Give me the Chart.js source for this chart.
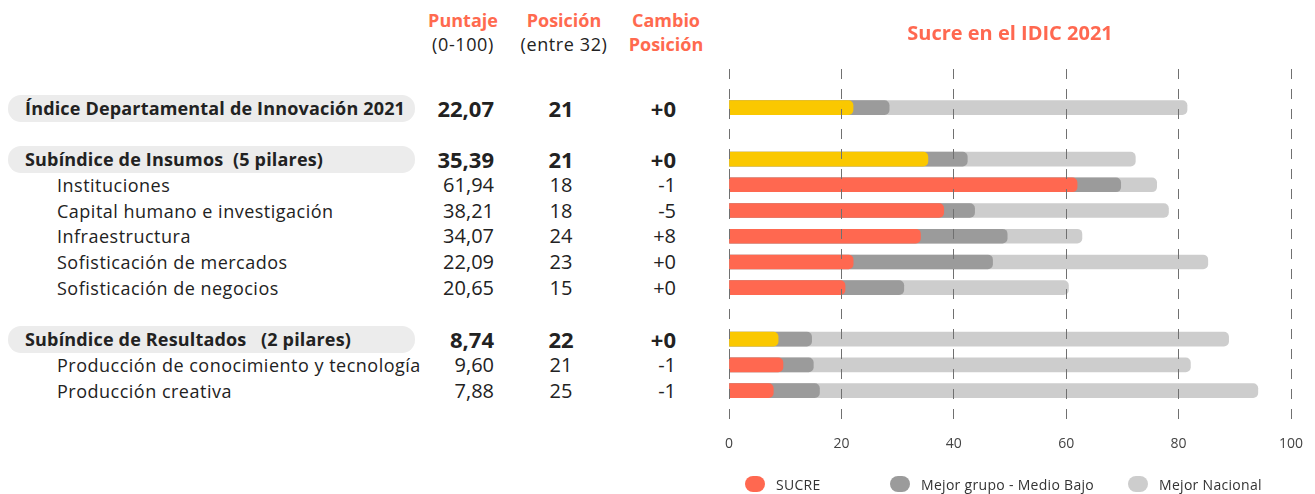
<!DOCTYPE html>
<html>
<head>
<meta charset="utf-8">
<title>Sucre en el IDIC 2021</title>
<script src="https://cdn.jsdelivr.net/npm/chart.js@4.4.1/dist/chart.umd.min.js"></script>
<style>
  html, body { margin: 0; padding: 0; background: #fff; overflow: hidden; }
  body { width: 1315px; height: 494px; position: relative; font-family: "Open Sans", sans-serif; color: #222; }
  .head { position: absolute; text-align: center; width: 130px; line-height: 24px; }
  .head b { color: #FF6A4F; font-size: 18px; display: block; }
  .head span { font-size: 18px; letter-spacing: 0.6px; display: block; }
  .row { position: absolute; left: 0; width: 700px; height: 26px; line-height: 26px; }
  .row .pill { position: absolute; left: 8px; top: 0; width: 407px; height: 27px; border-radius: 13px; background: #ececec; }
  .row .name { position: absolute; white-space: pre; font-size: 18px; letter-spacing: 0.5px; }
  .row .score { position: absolute; left: 400px; width: 94px; text-align: right; font-size: 20px; }
  .row .rank { position: absolute; left: 521px; width: 80px; text-align: center; font-size: 20px; }
  .row .chg { position: absolute; left: 616px; width: 60px; text-align: right; font-size: 20px; }
  .row.main .name, .row.main .score, .row.main .rank, .row.main .chg { font-weight: bold; }
  .row.main .score, .row.main .rank, .row.main .chg { font-size: 22px; }
  .row.main .name { left: 25px; letter-spacing: 0.17px; }
  .row.sub .name { left: 57px; }
  #chartBox { position: absolute; left: 700px; top: 0; width: 615px; height: 494px; }
  #legend { position: absolute; left: 745px; top: 476px; display: flex; font-size: 14px; letter-spacing: 0.3px; color: #333; }
  #legend .item { display: flex; align-items: center; height: 16px; }
  #legend .item:nth-child(1) { width: 145px; }
  #legend .item:nth-child(2) { width: 238px; }
  #legend .box { width: 20px; height: 16px; border-radius: 8px; margin-right: 11px; }
</style>
</head>
<body>

<div class="head" style="left:398px; top:8px"><b>Puntaje</b><span>(0-100)</span></div>
<div class="head" style="left:499px; top:8px"><b>Posición</b><span>(entre 32)</span></div>
<div class="head" style="left:601px; top:8px"><b>Cambio</b><b>Posición</b></div>

<div id="table"></div>
<div id="chartBox"><canvas id="idicChart"></canvas></div>
<div id="legend"></div>

<script>
// Filas del índice, subíndices y pilares
const rowNames = [
  'Índice Departamental de Innovación 2021',
  'Subíndice de Insumos  (5 pilares)',
  'Instituciones',
  'Capital humano e investigación',
  'Infraestructura',
  'Sofisticación de mercados',
  'Sofisticación de negocios',
  'Subíndice de Resultados   (2 pilares)',
  'Producción de conocimiento y tecnología',
  'Producción creativa'
];
const isMainRow = [true, true, false, false, false, false, false, true, false, false];
const scores = [22.07, 35.39, 61.94, 38.21, 34.07, 22.09, 20.65, 8.74, 9.60, 7.88];
const ranks = [21, 21, 18, 18, 24, 23, 15, 22, 21, 25];
const rankChanges = ['+0', '+0', '-1', '-5', '+8', '+0', '+0', '+0', '-1', '-1'];
const bestGroup = [28.5, 42.4, 69.7, 43.7, 49.5, 46.9, 31.1, 14.7, 15.0, 16.1];
const bestNational = [81.5, 72.3, 76.1, 78.2, 62.8, 85.2, 60.4, 88.9, 82.1, 94.1];
const seriesNames = ['SUCRE', 'Mejor grupo - Medio Bajo', 'Mejor Nacional'];
const xTicks = [0, 20, 40, 60, 80, 100];

const YELLOW = '#FAC800';
const CORAL = '#FF6850';
const DARK = '#9B9B9B';
const LIGHT = '#CDCDCD';

// blank slots: one above, one after the index, one before Resultados, one below
const gapAfter = [0, 6];
const slots = [null];
rowNames.forEach((n, i) => {
  slots.push(i);
  if (gapAfter.includes(i)) slots.push(null);
});
slots.push(null);

const pick = arr => slots.map(i => i === null ? null : arr[i]);

const barOpts = { grouped: false, barThickness: 14, borderRadius: 5, borderSkipped: 'start' };

const chart = new Chart(document.getElementById('idicChart'), {
  type: 'bar',
  data: {
    labels: slots.map(i => i === null ? '' : rowNames[i]),
    datasets: [
      Object.assign({
        label: seriesNames[0],
        data: pick(scores),
        backgroundColor: slots.map(i => i === null ? CORAL : (isMainRow[i] ? YELLOW : CORAL))
      }, barOpts),
      Object.assign({ label: seriesNames[1], data: pick(bestGroup), backgroundColor: DARK }, barOpts),
      Object.assign({ label: seriesNames[2], data: pick(bestNational), backgroundColor: LIGHT }, barOpts)
    ]
  },
  options: {
    indexAxis: 'y',
    responsive: true,
    maintainAspectRatio: false,
    animation: false,
    layout: { padding: { left: 29, right: 24, top: 22, bottom: 36 } },
    plugins: {
      legend: { display: false },
      tooltip: { enabled: false },
      title: {
        display: true,
        text: 'Sucre en el IDIC 2021',
        color: CORAL,
        font: { family: 'Open Sans', size: 20, weight: 'bold' },
        padding: { top: 0, bottom: 23 }
      }
    },
    scales: {
      x: {
        min: 0,
        max: 100,
        afterBuildTicks: s => { s.ticks = xTicks.map(v => ({ value: v })); },
        ticks: { color: '#444', font: { family: 'Open Sans', size: 14 }, padding: 6 },
        grid: { color: '#707070', lineWidth: 1, z: 1, drawTicks: false },
        border: { display: false, dash: [10, 10] }
      },
      y: { display: false }
    }
  }
});

// Table rows on the left, lined up with the bar rows
const yScale = chart.scales.y;
const table = document.getElementById('table');
slots.forEach((i, slot) => {
  if (i === null) return;
  const cy = yScale.getPixelForValue(slot);
  const row = document.createElement('div');
  row.className = 'row ' + (isMainRow[i] ? 'main' : 'sub');
  row.style.top = (cy - 13) + 'px';
  row.innerHTML =
    (isMainRow[i] ? '<div class="pill"></div>' : '') +
    '<span class="name"></span><span class="score"></span><span class="rank"></span><span class="chg"></span>';
  row.querySelector('.name').textContent = rowNames[i];
  row.querySelector('.score').textContent = scores[i].toFixed(2).replace('.', ',');
  row.querySelector('.rank').textContent = ranks[i];
  row.querySelector('.chg').textContent = rankChanges[i];
  table.appendChild(row);
});

// Legend
const legend = document.getElementById('legend');
[CORAL, DARK, LIGHT].forEach((c, k) => {
  const item = document.createElement('div');
  item.className = 'item';
  item.innerHTML = '<span class="box" style="background:' + c + '"></span><span></span>';
  item.lastChild.textContent = seriesNames[k];
  legend.appendChild(item);
});
</script>
</body>
</html>
